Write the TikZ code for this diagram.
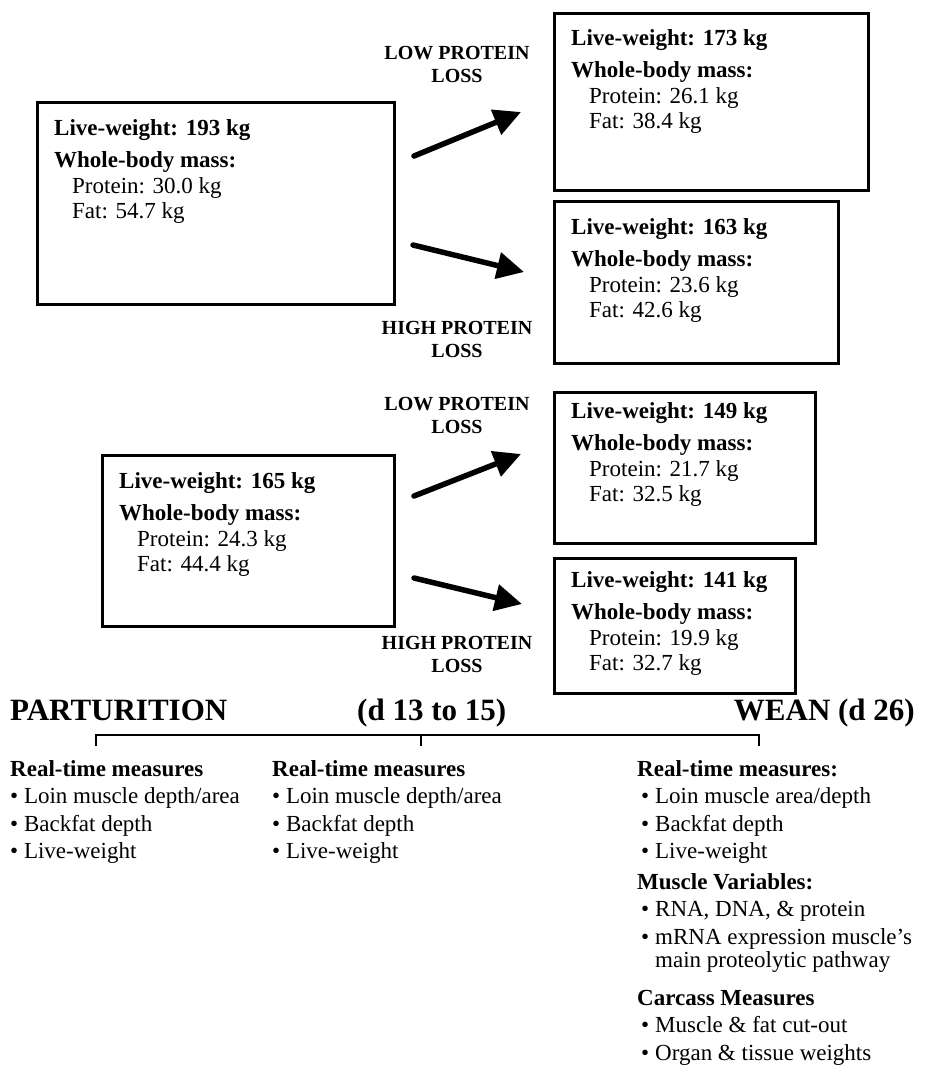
\documentclass[tikz,border=0pt]{standalone}
\usepackage{fontspec}
\setmainfont{Liberation Serif}
\usetikzlibrary{arrows.meta,positioning}

\newcommand{\bodymass}[3]{\textbf{Live-weight: #1 kg}\\[7pt]
 \textbf{Whole-body mass:}\\
 \hspace*{18pt}Protein: #2 kg\\
 \hspace*{18pt}Fat: #3 kg}
\newcommand{\bul}{\makebox[18pt][l]{\,\textbullet}}

\begin{document}
\begin{tikzpicture}[x=1pt,y=-1pt,
 massbox/.style={draw,line width=3pt,anchor=north west,inner sep=0pt},
 mass/.style={anchor=north west,align=left,inner sep=0pt,font=\fontsize{23}{25.5}\selectfont},
 loss/.style={align=center,inner sep=0pt,font=\fontsize{20}{23}\selectfont\bfseries},
 push/.style={line width=5.5pt,line cap=round,-{Triangle[length=27pt,width=26pt]}},
 stage/.style={anchor=base west,inner sep=0pt,font=\fontsize{31}{31}\selectfont\bfseries},
 measures/.style={anchor=north west,align=left,inner sep=0pt,font=\fontsize{23}{27.5}\selectfont}]
 \useasboundingbox (0,0) rectangle (926,1069);
 % heavier sows at parturition
 \node[massbox,minimum width=357pt,minimum height=202pt] (pA) at (36,101) {};
 \node[massbox,minimum width=314pt,minimum height=177pt] (lowA) at (553,12) {};
 \node[massbox,minimum width=284pt,minimum height=162pt] (highA) at (553,200) {};
 \node[mass] (tpA) at ([shift={(18,18)}]pA.north west) {\bodymass{193}{30.0}{54.7}};
 \node[mass] (tlowA) at ([shift={(18,17)}]lowA.north west) {\bodymass{173}{26.1}{38.4}};
 \node[mass] (thighA) at ([shift={(18,18)}]highA.north west) {\bodymass{163}{23.6}{42.6}};
 \node[loss] (lpA) at (457,64) {LOW PROTEIN\\LOSS};
 \node[loss] (hpA) at (457,339) {HIGH PROTEIN\\LOSS};
 \coordinate (a1) at (414,156); \coordinate (a2) at (521,112);
 \coordinate (a3) at (413,245); \coordinate (a4) at (524,272);
 \draw[push] (a1) -- (a2);
 \draw[push] (a3) -- (a4);
 % lighter sows at parturition
 \node[massbox,minimum width=292pt,minimum height=171pt] (pB) at (101,454) {};
 \node[massbox,minimum width=261pt,minimum height=151pt] (lowB) at (553,391) {};
 \node[massbox,minimum width=241pt,minimum height=135pt] (highB) at (553,557) {};
 \node[mass] (tpB) at ([shift={(18,18)}]pB.north west) {\bodymass{165}{24.3}{44.4}};
 \node[mass] (tlowB) at ([shift={(18,11)}]lowB.north west) {\bodymass{149}{21.7}{32.5}};
 \node[mass] (thighB) at ([shift={(18,14)}]highB.north west) {\bodymass{141}{19.9}{32.7}};
 \node[loss] (lpB) at (457,415) {LOW PROTEIN\\LOSS};
 \node[loss] (hpB) at (457,654) {HIGH PROTEIN\\LOSS};
 \coordinate (b1) at (414,496); \coordinate (b2) at (521,454);
 \coordinate (b3) at (414,578); \coordinate (b4) at (522,604);
 \draw[push] (b1) -- (b2);
 \draw[push] (b3) -- (b4);
 % time line
 \node[stage] (part) at (10,720) {PARTURITION};
 \node[stage] (mid) at (357,720) {(d 13 to 15)};
 \node[stage,anchor=base east] (wean) at (915,720) {WEAN (d 26)};
 \coordinate (k1) at (96,746); \coordinate (k2) at (421,746); \coordinate (k3) at (759,746);
 \draw[line width=2pt] (k1) |- (k3 |- 0,735) -- (k3);
 \draw[line width=2pt] (k2) -- (k2 |- 0,735);
 \node[measures] (m1) at (10,760) {\textbf{Real-time measures}\\
  \textbullet\ Loin muscle depth/area\\
  \textbullet\ Backfat depth\\
  \textbullet\ Live-weight};
 \node[measures] (m2) at (272,760) {\textbf{Real-time measures}\\
  \textbullet\ Loin muscle depth/area\\
  \textbullet\ Backfat depth\\
  \textbullet\ Live-weight};
 \node[measures] (m3) at (637,760) {\textbf{Real-time measures:}\\
  \bul Loin muscle area/depth\\
  \bul Backfat depth\\
  \bul Live-weight\\[3pt]
  \textbf{Muscle Variables:}\\
  \bul RNA, DNA, \& protein\\
  \bul mRNA expression muscle's\\[-4pt]
  \hspace*{18pt}main proteolytic pathway\\[10pt]
  \textbf{Carcass Measures}\\
  \bul Muscle \& fat cut-out\\
  \bul Organ \& tissue weights};
\end{tikzpicture}
\end{document}
